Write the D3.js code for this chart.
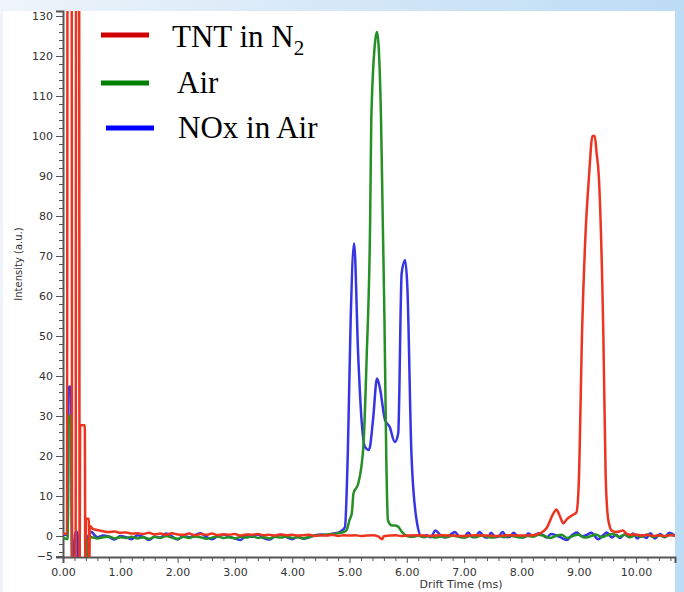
<!DOCTYPE html>
<html>
<head>
<meta charset="utf-8">
<script src="https://cdn.jsdelivr.net/npm/d3@7"></script>
<style>
  body { margin: 0; background: #fff; }
  svg { display: block; }
</style>
</head>
<body>
<svg id="chart"></svg>
<script>
// IMS spectra: drift time (ms) vs intensity (a.u.)

const seriesNames = ["TNT in N2", "Air", "NOx in Air"];

// [drift time, intensity]
const tntPoints = [
  [0.00, 0.5], [0.07, 0.6], [0.08, 160], [0.15, 160], [0.16, -8], [0.22, -8],
  [0.23, 160], [0.28, 160], [0.29, -8], [0.30, 27.7], [0.38, 27.7], [0.39, -8],
  [0.40, 4.3], [0.45, 4.3], [0.46, -6], [0.47, 2.5], [0.52, 1.8], [0.60, 1.5],
  [0.70, 1.2], [0.80, 1.0], [0.90, 1.1], [1.00, 0.8], [1.10, 0.9], [1.20, 0.6],
  [1.30, 0.7], [1.40, 0.5], [1.50, 0.8], [1.60, 0.4], [1.70, 0.6], [1.80, 0.3],
  [1.90, 0.7], [2.00, 0.4], [2.10, 0.3], [2.20, 0.6], [2.30, 0.2], [2.40, 0.5],
  [2.50, 0.3], [2.60, 0.6], [2.70, 0.2], [2.80, 0.4], [2.90, 0.3], [3.00, 0.5],
  [3.10, 0.1], [3.20, 0.4], [3.30, 0.3], [3.40, 0.5], [3.50, 0.2], [3.60, 0.3],
  [3.70, 0.1], [3.80, 0.4], [3.90, 0.2], [4.00, 0.3], [4.10, 0.1], [4.20, 0.2],
  [4.30, 0.3], [4.40, 0.0], [4.50, 0.2], [4.60, 0.1], [4.70, 0.3], [4.80, 0.0],
  [4.90, 0.2], [5.00, 0.1], [5.10, 0.2], [5.20, 0.0], [5.30, 0.1], [5.40, 0.2],
  [5.50, -0.1], [5.57, -0.8], [5.60, 0.0], [5.70, 0.1], [5.80, 0.2], [5.90, 0.0],
  [6.00, 0.1], [6.20, 0.2], [6.40, 0.0], [6.60, 0.2], [6.80, 0.1], [7.00, 0.0],
  [7.20, 0.2], [7.40, 0.1], [7.60, 0.0], [7.80, 0.2], [8.00, 0.1], [8.20, 0.2],
  [8.33, 0.7], [8.44, 2.0], [8.56, 5.7], [8.61, 6.6], [8.67, 5.0], [8.73, 3.2],
  [8.80, 4.3], [8.90, 5.3], [8.96, 5.9], [9.00, 13], [9.06, 52], [9.12, 76],
  [9.18, 90], [9.24, 100], [9.28, 100], [9.31, 96], [9.35, 90], [9.43, 50],
  [9.47, 15], [9.50, 6], [9.53, 3], [9.58, 1.3], [9.66, 1.0], [9.72, 1.2],
  [9.77, 1.4], [9.83, 0.6], [9.90, 0.3], [10.00, 0.4], [10.10, 0.1], [10.20, 0.3],
  [10.30, 0.0], [10.40, 0.2], [10.50, 0.0], [10.60, 0.2], [10.68, 0.1]
];

const airPoints = [
  [0.00, -0.5], [0.08, -0.8], [0.10, 30], [0.14, 30], [0.16, -8], [0.42, -8],
  [0.44, -0.5], [0.50, -0.3], [0.60, -0.6], [0.70, -0.3], [0.80, -0.1], [0.90, -0.6],
  [1.00, -0.3], [1.10, -0.5], [1.20, -0.2], [1.30, -0.6], [1.40, -0.3], [1.50, -0.7],
  [1.60, -0.2], [1.70, -0.5], [1.80, 0.0], [1.90, -0.4], [2.00, -0.7], [2.10, -0.2],
  [2.20, -0.5], [2.30, -0.1], [2.40, -0.3], [2.50, -0.7], [2.60, -0.4], [2.70, -0.1],
  [2.80, -0.5], [2.90, -0.3], [3.00, -0.6], [3.10, -0.2], [3.20, -0.4], [3.30, 0.0],
  [3.40, -0.5], [3.50, -0.3], [3.60, -0.6], [3.70, -0.2], [3.80, -0.4], [3.90, -0.1],
  [4.00, -0.5], [4.10, -0.3], [4.20, -0.6], [4.30, -0.2], [4.40, 0.1], [4.50, 0.2],
  [4.60, 0.4], [4.70, 0.5], [4.80, 0.7], [4.90, 1.0], [4.95, 1.5], [5.00, 4.0],
  [5.04, 5.7], [5.07, 10.7], [5.15, 13], [5.24, 22], [5.30, 45], [5.36, 79],
  [5.38, 104], [5.45, 124], [5.48, 126], [5.51, 122], [5.55, 104], [5.58, 79],
  [5.61, 54], [5.64, 21], [5.67, 4.0], [5.73, 2.7], [5.80, 2.6], [5.85, 2.3],
  [5.91, 1.1], [6.00, 0.0], [6.10, -0.2], [6.20, 0.1], [6.30, -0.3], [6.40, 0.0],
  [6.50, -0.4], [6.60, -0.1], [6.70, -0.3], [6.80, 0.1], [6.90, -0.2], [7.00, -0.4],
  [7.10, 0.0], [7.20, -0.3], [7.30, 0.1], [7.40, -0.2], [7.50, -0.4], [7.60, 0.0],
  [7.70, -0.3], [7.80, 0.1], [7.90, -0.2], [8.00, -0.4], [8.10, 0.0], [8.20, -0.2],
  [8.30, 0.3], [8.40, 0.0], [8.50, -0.5], [8.60, 0.0], [8.70, 0.3], [8.80, -0.5],
  [8.90, 0.0], [9.00, 0.4], [9.10, -0.4], [9.20, -0.1], [9.30, 0.4], [9.40, -0.3],
  [9.50, 0.2], [9.60, 0.5], [9.70, -0.2], [9.80, 0.3], [9.90, -0.3], [10.00, 0.2],
  [10.10, -0.2], [10.20, 0.4], [10.30, -0.3], [10.40, 0.2], [10.50, -0.2], [10.60, 0.3],
  [10.68, 0.0]
];

const noxPoints = [
  [0.00, 0.3], [0.08, 0.3], [0.10, 37.3], [0.14, 37.3], [0.16, -8], [0.22, 1.0],
  [0.25, 1.0], [0.27, -8], [0.40, -8], [0.43, -0.5], [0.50, 1.0], [0.55, 0.2],
  [0.60, -0.3], [0.70, 0.1], [0.80, -0.2], [0.90, -0.9], [1.00, 0.0], [1.10, -0.3],
  [1.20, -0.8], [1.30, 0.2], [1.40, -0.2], [1.50, -1.0], [1.60, -0.2], [1.70, -0.4],
  [1.80, 0.6], [1.90, -0.1], [2.00, -0.9], [2.10, 0.1], [2.20, -0.3], [2.30, 0.2],
  [2.40, 0.7], [2.50, -0.2], [2.60, -0.8], [2.70, 0.0], [2.80, 0.4], [2.90, -0.2],
  [3.00, -0.6], [3.10, -1.0], [3.20, 0.1], [3.30, -0.2], [3.40, 0.3], [3.50, -0.5],
  [3.60, -0.9], [3.70, 0.0], [3.80, 0.3], [3.90, -0.3], [4.00, -0.8], [4.10, -0.2],
  [4.20, -0.7], [4.30, -0.3], [4.40, 0.2], [4.50, 0.4], [4.60, 0.2], [4.70, 0.6],
  [4.80, 0.8], [4.85, 1.2], [4.92, 2.2], [4.97, 20.6], [5.02, 54], [5.08, 73.2],
  [5.15, 45.7], [5.21, 29], [5.27, 22.3], [5.34, 21.5], [5.41, 29], [5.48, 39.4],
  [5.53, 37], [5.62, 29], [5.70, 27.3], [5.79, 23.5], [5.85, 25.7], [5.91, 65.7],
  [5.97, 69], [6.01, 62], [6.08, 20.7], [6.17, 4.0], [6.26, -0.2], [6.35, 0.2],
  [6.42, -0.3], [6.50, 1.4], [6.58, 0.3], [6.66, -0.4], [6.75, 0.2], [6.84, 1.0],
  [6.92, -0.2], [7.00, -0.3], [7.07, 0.9], [7.15, -0.3], [7.20, -0.2], [7.27, 1.0],
  [7.35, -0.2], [7.41, -0.4], [7.47, 0.8], [7.55, -0.3], [7.60, -0.2], [7.67, 1.0],
  [7.75, -0.3], [7.80, -0.2], [7.86, 0.8], [7.95, -0.2], [8.05, -0.3], [8.12, 0.6],
  [8.20, 0.0], [8.30, 0.7], [8.38, 0.2], [8.44, -0.4], [8.52, 0.5], [8.60, 0.2],
  [8.68, -0.3], [8.79, -1.0], [8.88, 0.2], [8.97, 0.9], [9.05, -0.1], [9.13, 0.2],
  [9.22, 0.8], [9.34, -0.8], [9.42, 0.1], [9.49, 0.9], [9.58, -0.4], [9.65, 0.3],
  [9.72, -0.5], [9.80, 0.4], [9.88, -0.3], [9.95, 0.6], [10.02, -0.6], [10.10, 0.2],
  [10.18, -0.5], [10.25, 0.7], [10.33, -0.6], [10.42, 0.5], [10.50, -0.3], [10.58, 0.8],
  [10.68, 0.1]
];

const xMajorTicks = [0, 1, 2, 3, 4, 5, 6, 7, 8, 9, 10];
const yMajorTicks = [-5, 0, 10, 20, 30, 40, 50, 60, 70, 80, 90, 100, 110, 120, 130];

const width = 684;
const height = 592;

const svg = d3.select("#chart")
    .attr("width", width)
    .attr("height", height);

// slide-like light blue frame around a white panel
const defs = svg.append("defs");
const grad = defs.append("linearGradient")
    .attr("id", "bg")
    .attr("x1", 0).attr("x2", 1).attr("y1", 0).attr("y2", 0);
grad.append("stop").attr("offset", "0%").attr("stop-color", "#eef4fa");
grad.append("stop").attr("offset", "100%").attr("stop-color", "#bcdcf5");

svg.append("rect")
    .attr("width", width).attr("height", height)
    .attr("fill", "url(#bg)");
svg.append("rect")
    .attr("x", 3).attr("y", 11)
    .attr("width", 672).attr("height", height - 11)
    .attr("fill", "#fff");

const plot = { left: 63, right: 675, top: 11, bottom: 557 };

const x = d3.scaleLinear().domain([0, 10.68]).range([plot.left, plot.right]);
const y = d3.scaleLinear().domain([-5.25, 131.25]).range([plot.bottom, plot.top]);

defs.append("clipPath").attr("id", "clip")
  .append("rect")
    .attr("x", plot.left).attr("y", plot.top)
    .attr("width", plot.right - plot.left)
    .attr("height", plot.bottom - plot.top);

const axisColor = "#555";
const font = "DejaVu Sans, Verdana, sans-serif";

// minor ticks
const xMinor = d3.range(0, 10.7, 0.2).filter(v => Math.abs(v - Math.round(v)) > 0.01);
const yMinor = d3.range(-4, 131, 2).filter(v => v % 10 !== 0);

const xAxisG = svg.append("g")
    .attr("transform", `translate(0,${plot.bottom})`);
xAxisG.append("g")
    .call(d3.axisBottom(x).tickValues(xMinor).tickSize(4).tickFormat(""))
    .call(g => g.select(".domain").remove());
xAxisG.append("g")
    .call(d3.axisBottom(x).tickValues(xMajorTicks).tickSize(6).tickPadding(5)
      .tickFormat(d3.format(".2f")))
    .call(g => g.select(".domain").attr("stroke-width", 2));

const yAxisG = svg.append("g")
    .attr("transform", `translate(${plot.left},0)`);
yAxisG.append("g")
    .call(d3.axisLeft(y).tickValues(yMinor).tickSize(4).tickFormat(""))
    .call(g => g.select(".domain").remove());
yAxisG.append("g")
    .call(d3.axisLeft(y).tickValues(yMajorTicks).tickSize(7).tickPadding(3)
      .tickFormat(d3.format("d")))
    .call(g => g.select(".domain").attr("stroke-width", 2));

svg.selectAll(".tick line").attr("stroke", axisColor);
svg.selectAll(".domain").attr("stroke", axisColor);
svg.selectAll(".tick text")
    .attr("fill", "#333")
    .style("font", `11px ${font}`);

svg.append("text")
    .attr("transform", "translate(22,264) rotate(-90)")
    .attr("text-anchor", "middle")
    .attr("fill", "#333")
    .style("font", `10px ${font}`)
    .text("Intensity (a.u.)");

svg.append("text")
    .attr("x", 461).attr("y", 588)
    .attr("text-anchor", "middle")
    .attr("fill", "#333")
    .style("font", `11px ${font}`)
    .text("Drift Time (ms)");

// data lines
const line = d3.line()
    .curve(d3.curveMonotoneX)
    .x(d => x(d[0]))
    .y(d => y(d[1]));

const lines = [
  { name: seriesNames[2], data: noxPoints, color: "#3535e4" },
  { name: seriesNames[1], data: airPoints, color: "#259025" },
  { name: seriesNames[0], data: tntPoints, color: "#ec3420" }
];

svg.append("g")
    .attr("clip-path", "url(#clip)")
  .selectAll("path")
  .data(lines)
  .join("path")
    .attr("fill", "none")
    .attr("stroke", d => d.color)
    .attr("stroke-width", 2.5)
    .attr("stroke-linejoin", "round")
    .attr("d", d => line(d.data));

// legend
const legendItems = [
  { label: "TNT in N", sub: "2", color: "#d00000", lx: 101, ty: 47, tx: 172, ly: 35 },
  { label: "Air", sub: null, color: "#008000", lx: 101, ty: 93, tx: 177, ly: 83 },
  { label: "NOx in Air", sub: null, color: "#0000ff", lx: 106, ty: 138, tx: 178, ly: 128 }
];

const legend = svg.append("g");
legend.selectAll("line")
  .data(legendItems)
  .join("line")
    .attr("x1", d => d.lx).attr("x2", d => d.lx + 48)
    .attr("y1", d => d.ly).attr("y2", d => d.ly)
    .attr("stroke", d => d.color)
    .attr("stroke-width", 5);

const lt = legend.selectAll("text")
  .data(legendItems)
  .join("text")
    .attr("x", d => d.tx).attr("y", d => d.ty)
    .attr("fill", "#000")
    .style("font", "31px 'Liberation Serif', 'Times New Roman', serif")
    .text(d => d.label);
lt.filter(d => d.sub)
  .append("tspan")
    .attr("dy", 8)
    .style("font-size", "21px")
    .text(d => d.sub);
</script>
</body>
</html>
